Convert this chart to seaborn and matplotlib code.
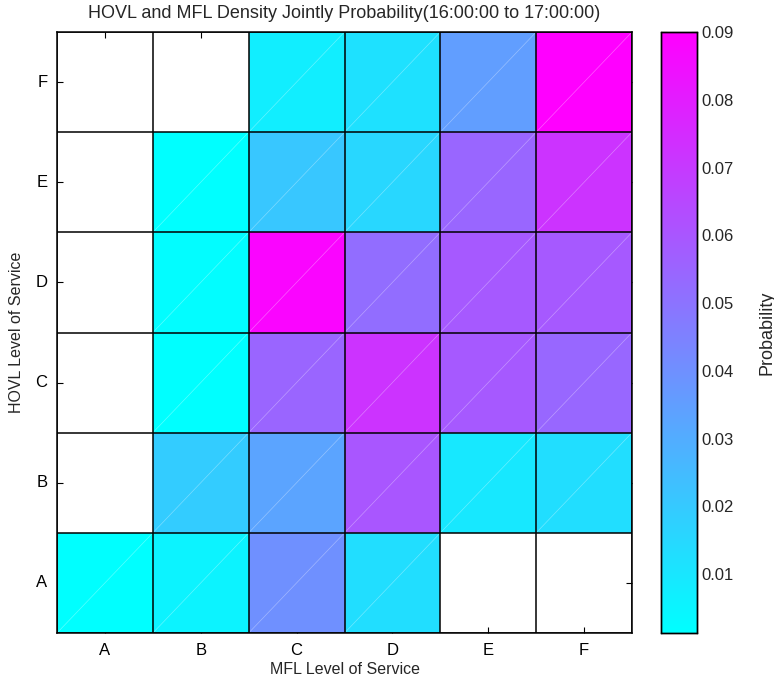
import numpy as np
import pandas as pd
import matplotlib
matplotlib.use("Agg")
import matplotlib.pyplot as plt
import seaborn as sns

# Level-of-service categories (MFL on x, HOVL on y)
mfl_levels = ["A", "B", "C", "D", "E", "F"]
hovl_levels = ["F", "E", "D", "C", "B", "A"]  # top to bottom

# Joint probability per HOVL row (columns follow mfl_levels); NaN = no observations
row_F = [np.nan, np.nan, 0.0075, 0.0120, 0.0350, 0.0900]
row_E = [np.nan, 0.0013, 0.0208, 0.0152, 0.0545, 0.0723]
row_D = [np.nan, 0.0020, 0.0880, 0.0520, 0.0590, 0.0590]
row_C = [np.nan, 0.0015, 0.0550, 0.0720, 0.0590, 0.0540]
row_B = [np.nan, 0.0190, 0.0330, 0.0600, 0.0093, 0.0130]
row_A = [0.0013, 0.0055, 0.0400, 0.0130, np.nan, np.nan]

cbar_ticks = [0.01, 0.02, 0.03, 0.04, 0.05, 0.06, 0.07, 0.08, 0.09]

df = pd.DataFrame([row_F, row_E, row_D, row_C, row_B, row_A],
                  index=hovl_levels, columns=mfl_levels)

sns.set_style("white")
plt.rcParams["font.family"] = ["Liberation Sans", "DejaVu Sans"]

fig = plt.figure(figsize=(7.74, 6.85), dpi=100)
W, H = 774, 685
ax = fig.add_axes([57 / W, 1 - 633 / H, (632 - 57) / W, (633 - 32) / H])
cax = fig.add_axes([661 / W, 1 - 633 / H, (697 - 661) / W, (633 - 32) / H])

sns.heatmap(df, ax=ax, cmap="cool", vmin=0.0013, vmax=0.09,
            cbar_ax=cax, cbar_kws={"ticks": cbar_ticks},
            linewidths=0, square=False)

# faint diagonal seams across each filled cell
n = len(mfl_levels)
for i in range(n):
    for j in range(n):
        if not np.isnan(df.iat[i, j]):
            ax.plot([j, j + 1], [i + 1, i], color="white", lw=0.5, alpha=0.35)

# black cell grid
for k in range(n + 1):
    ax.axhline(k, color="black", lw=1.1)
    ax.axvline(k, color="black", lw=1.1)

ax.set_xlim(0, n)
ax.set_ylim(n, 0)
ax.tick_params(axis="both", direction="in", length=4, width=0.8,
               top=True, right=True, bottom=True, left=True,
               labelsize=12, colors="black", pad=7)
ax.set_xticklabels(mfl_levels, rotation=0)
ax.set_yticklabels(hovl_levels, rotation=0)
for s in ax.spines.values():
    s.set_visible(True)
    s.set_color("black")
    s.set_linewidth(1.1)

ax.set_xlabel("MFL Level of Service", fontsize=11.5, labelpad=3)
ax.set_ylabel("HOVL Level of Service", fontsize=11.5, labelpad=8)
ax.set_title("HOVL and MFL Density Jointly Probability(16:00:00 to 17:00:00)",
             fontsize=13, pad=10)

cax.tick_params(direction="in", length=4, width=0.8, left=True, right=True,
                labelsize=12, pad=3)
cax.set_yticklabels([f"{t:.2f}" for t in cbar_ticks])
for s in cax.spines.values():
    s.set_visible(True)
    s.set_color("black")
    s.set_linewidth(1.0)
cax.set_ylabel("Probability", fontsize=13, labelpad=18)
cax.yaxis.set_label_position("right")

fig.savefig("out.png", dpi=100, facecolor="white")
